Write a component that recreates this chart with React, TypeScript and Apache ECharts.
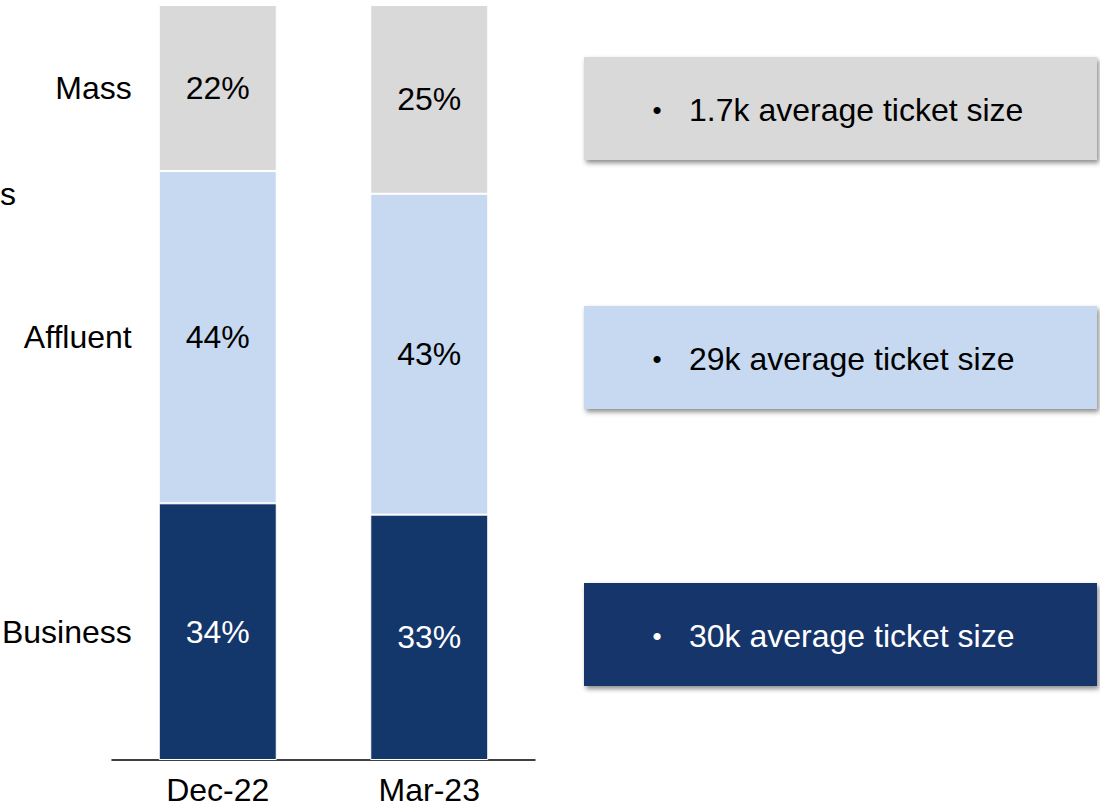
import React, { useEffect, useRef } from "react";
import * as echarts from "echarts";

const categories = ["Dec-22", "Mar-23"];
const businessValues = [34, 32.5];
const affluentValues = [44, 42.5];
const massValues = [22, 25];
const segmentNames = ["Business", "Affluent", "Mass"];
const boxTexts = ["1.7k average ticket size", "29k average ticket size", "30k average ticket size"];
const partialLeftText = "s";

const FONT = "'Liberation Sans', Arial, Helvetica, sans-serif";
const NAVY = "#13366b";
const LIGHT = "#c6d9f0";
const GRAY = "#d9d9d9";

export default function App() {
  const ref = useRef<HTMLDivElement>(null);
  useEffect(() => {
    if (!ref.current) return;
    const chart = echarts.init(ref.current, undefined, { renderer: "svg" });
    const mkSeries = (name: string, data: number[], color: string, textColor: string) => ({
      name,
      type: "bar",
      stack: "total",
      data,
      barWidth: 118,
      itemStyle: { color, borderColor: "#ffffff", borderWidth: 1 },
      label: {
        show: true,
        position: "inside",
        fontSize: 32,
        fontFamily: FONT,
        color: textColor,
        formatter: (p: any) => Math.round(p.value) + "%",
      },
    });
    chart.setOption({
      animation: false,
      backgroundColor: "#ffffff",
      grid: { left: 112, right: 565, top: 5, bottom: 51 },
      xAxis: {
        type: "category",
        data: categories,
        axisLine: { show: true, lineStyle: { color: "#000000", width: 1.5 } },
        axisTick: { show: false },
        axisLabel: { fontSize: 32, fontFamily: FONT, color: "#000000", margin: 14 },
      },
      yAxis: { type: "value", min: 0, max: 100, show: false, splitLine: { show: false } },
      series: [
        mkSeries("Business", businessValues, NAVY, "#ffffff"),
        mkSeries("Affluent", affluentValues, LIGHT, "#000000"),
        mkSeries("Mass", massValues, GRAY, "#000000"),
      ],
    });

    // left segment labels aligned to first bar's segments
    const segVals = [businessValues[0], affluentValues[0], massValues[0]];
    const graphics: any[] = [];
    let cum = 0;
    const barLeft = (chart.convertToPixel({ gridIndex: 0 }, [0, 0]) as number[])[0] - 59;
    segVals.forEach((v, i) => {
      const mid = cum + v / 2;
      cum += v;
      const pt = chart.convertToPixel({ gridIndex: 0 }, [0, mid]) as number[];
      graphics.push({
        type: "text",
        x: barLeft - 27,
        y: pt[1],
        style: {
          text: segmentNames[i],
          fontSize: 32,
          fontFamily: FONT,
          fill: "#000000",
          align: "right",
          verticalAlign: "middle",
        },
      });
    });
    graphics.push({
      type: "text",
      x: 0,
      y: 194,
      style: { text: partialLeftText, fontSize: 32, fontFamily: FONT, fill: "#000000", align: "left", verticalAlign: "middle" },
    });

    const boxes = [
      { y: 57, color: GRAY, textColor: "#000000" },
      { y: 306, color: LIGHT, textColor: "#000000" },
      { y: 583, color: NAVY, textColor: "#ffffff" },
    ];
    boxes.forEach((b, i) => {
      graphics.push({
        type: "rect",
        shape: { x: 584, y: b.y, width: 513, height: 103 },
        style: {
          fill: b.color,
          shadowBlur: 5,
          shadowOffsetX: 2,
          shadowOffsetY: 3,
          shadowColor: "rgba(0,0,0,0.45)",
        },
      });
      graphics.push({
        type: "text",
        x: 657,
        y: b.y + 53,
        style: { text: "•", fontSize: 26, fontFamily: FONT, fill: b.textColor, align: "center", verticalAlign: "middle" },
      });
      graphics.push({
        type: "text",
        x: 689,
        y: b.y + 53,
        style: { text: boxTexts[i], fontSize: 32, fontFamily: FONT, fill: b.textColor, align: "left", verticalAlign: "middle" },
      });
    });
    chart.setOption({ graphic: graphics });
    return () => chart.dispose();
  }, []);
  return (
    <div
      ref={ref}
      style={{ position: "fixed", left: 0, top: 0, width: 1100, height: 811, background: "#ffffff" }}
    />
  );
}
